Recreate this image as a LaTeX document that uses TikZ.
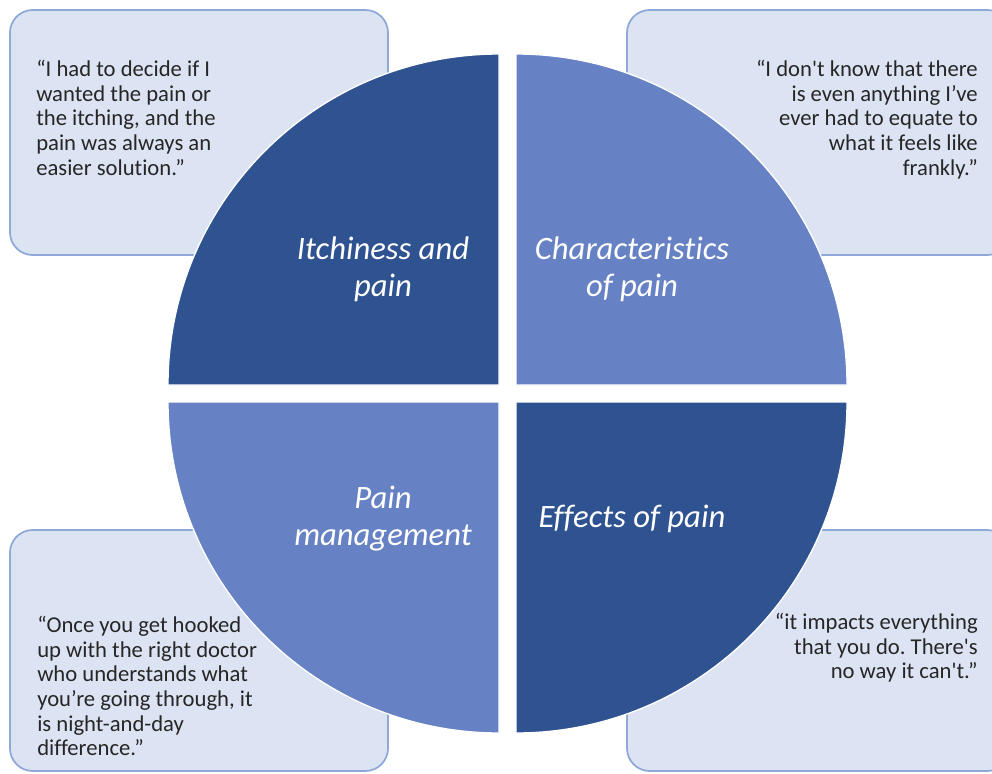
\documentclass[tikz,border=0pt]{standalone}
\usepackage{fontspec}
\setmainfont{Carlito}[Ligatures={TeX,NoCommon}]
\begin{document}
\frenchspacing
\begin{tikzpicture}[x=0.75pt,y=-0.75pt,
  quotebox/.style={draw=boxline, fill=boxfill, line width=1.3pt, rounded corners=17pt},
  quotetext/.style={inner sep=0pt, text=quotegray, font=\fontsize{17}{18.5}\selectfont},
  quadrant/.style={draw=white, line width=1pt},
  theme/.style={text=white, align=center, inner sep=0pt, font=\fontsize{24.5}{27.8}\selectfont\itshape}]
  \definecolor{darkq}{HTML}{2F5290}
  \definecolor{lightq}{HTML}{6682C4}
  \definecolor{boxfill}{HTML}{DCE3F2}
  \definecolor{boxline}{HTML}{8EA8DA}
  \definecolor{quotegray}{HTML}{262626}
  \useasboundingbox (0,0) rectangle (992,774);

  % quote boxes behind the wheel
  \draw[quotebox] (10,10) rectangle (388,255);
  \draw[quotebox] (627,10) rectangle (1010,255);
  \draw[quotebox] (10,530) rectangle (388,771);
  \draw[quotebox] (627,530) rectangle (1010,771);

  % the four quarters of the wheel
  \filldraw[quadrant, fill=darkq]  (499,385) -- (168,385) arc[start angle=180, end angle=270, radius=331] -- cycle;
  \filldraw[quadrant, fill=lightq] (516,385) -- (516,54)  arc[start angle=270, end angle=360, radius=331] -- cycle;
  \filldraw[quadrant, fill=lightq] (499,402) -- (499,733) arc[start angle=90,  end angle=180, radius=331] -- cycle;
  \filldraw[quadrant, fill=darkq]  (516,402) -- (847,402) arc[start angle=0,   end angle=90,  radius=331] -- cycle;

  % theme labels
  \node[theme] (itch)   at (383,269) {Itchiness and\\pain};
  \node[theme] (charac) at (632,269) {Characteristics\\of pain};
  \node[theme] (manage) at (383,519) {Pain\\management};
  \node[theme] (effect) at (632,519) {Effects of pain};

  % quotations
  \node[quotetext, align=left, anchor=north west] (q1) at (36,60)
    {“I had to decide if I\\wanted the pain or\\the itching, and the\\pain was always an\\easier solution.”};
  \node[quotetext, align=right, anchor=north east] (q2) at (978,60)
    {“I don\textquotesingle t know that there\\is even anything I’ve\\ever had to equate to\\what it feels like\\frankly.”};
  \node[quotetext, align=left, anchor=north west] (q3) at (37,616)
    {“Once you get hooked\\up with the right doctor\\who understands what\\you’re going through, it\\is night-and-day\\difference.”};
  \node[quotetext, align=right, anchor=north east] (q4) at (978,613)
    {“it impacts everything\\that you do. There\textquotesingle s\\no way it can\textquotesingle t.”};
\end{tikzpicture}
\end{document}
